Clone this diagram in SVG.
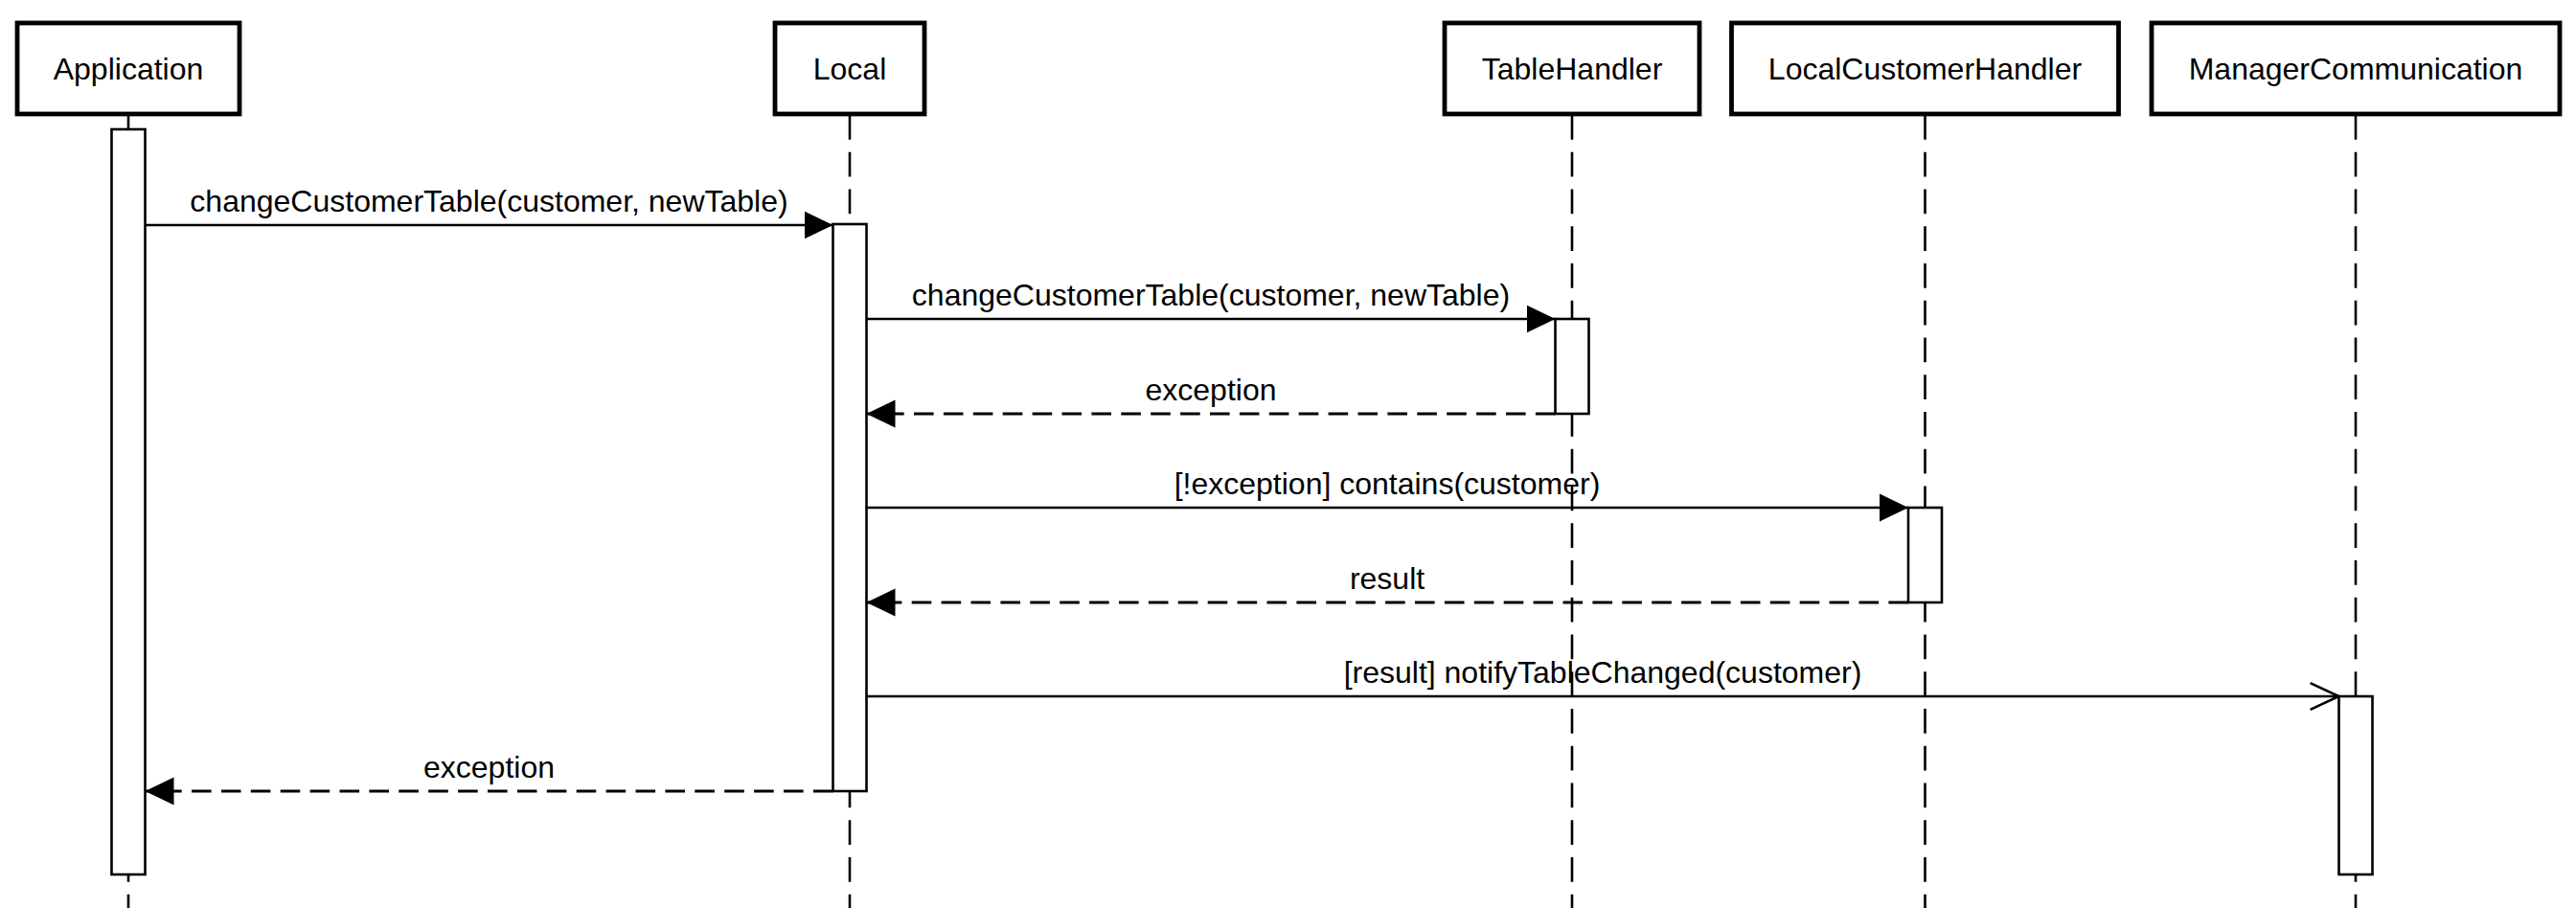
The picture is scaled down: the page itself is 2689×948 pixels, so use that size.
<svg xmlns="http://www.w3.org/2000/svg" width="2689" height="948" viewBox="0 0 2689 948">
<style>
.box{fill:#fff;stroke:#000;stroke-width:4.8}
.life{stroke:#000;stroke-width:2.6;stroke-dasharray:25.8 12.95;fill:none}
.act{fill:#fff;stroke:#000;stroke-width:2.6}
.msg{stroke:#000;stroke-width:2.6;fill:none}
.ret{stroke:#000;stroke-width:2.8;fill:none;stroke-dasharray:20.6 10.3}
text{font-family:"Liberation Sans",Arial,sans-serif;font-size:32px;fill:#000;text-anchor:middle}
</style>
<defs>
<marker id="block" markerUnits="userSpaceOnUse" markerWidth="30" markerHeight="30" viewBox="0 0 29 28" refX="29" refY="14" orient="auto">
<path d="M0,0 L29,14 L0,28 Z" fill="#000"/>
</marker>
<marker id="open" markerUnits="userSpaceOnUse" markerWidth="34" markerHeight="34" viewBox="-2 -2 33 31" refX="29" refY="13.5" orient="auto">
<path d="M0,0 L29,13.5 L0,27" fill="none" stroke="#000" stroke-width="2.6"/>
</marker>
</defs>
<rect width="2689" height="948" fill="#fff"/>
<g id="lifelines">
<line class="life" x1="134" y1="120" x2="134" y2="948"/>
<line class="life" x1="887" y1="120" x2="887" y2="948"/>
<line class="life" x1="1641" y1="120" x2="1641" y2="948"/>
<line class="life" x1="2009.5" y1="120" x2="2009.5" y2="948"/>
<line class="life" x1="2459" y1="120" x2="2459" y2="948"/>
</g>
<g id="Application">
<rect class="box" x="18" y="24" width="232" height="95"/>
<text x="134" y="82.5">Application</text>
<rect class="act" x="116.5" y="135" width="35" height="778"/>
</g>
<g id="Local">
<rect class="box" x="809" y="24" width="156" height="95"/>
<text x="887" y="82.5">Local</text>
<rect class="act" x="869.5" y="234" width="35" height="592"/>
</g>
<g id="TableHandler">
<rect class="box" x="1508" y="24" width="266" height="95"/>
<text x="1641" y="82.5">TableHandler</text>
<rect class="act" x="1623.5" y="333" width="35" height="99"/>
</g>
<g id="LocalCustomerHandler">
<rect class="box" x="1807.5" y="24" width="404" height="95"/>
<text x="2009.5" y="82.5">LocalCustomerHandler</text>
<rect class="act" x="1992" y="530" width="35" height="99"/>
</g>
<g id="ManagerCommunication">
<rect class="box" x="2246" y="24" width="426" height="95"/>
<text x="2459" y="82.5">ManagerCommunication</text>
<rect class="act" x="2441.5" y="727" width="35" height="186"/>
</g>
<g id="connectors">
<line class="msg" x1="151.5" y1="235" x2="869.5" y2="235" marker-end="url(#block)"/>
<text x="510.5" y="221">changeCustomerTable(customer, newTable)</text>
<line class="msg" x1="904.5" y1="333" x2="1623.5" y2="333" marker-end="url(#block)"/>
<text x="1264" y="319">changeCustomerTable(customer, newTable)</text>
<line class="ret" x1="1623.5" y1="432" x2="904.5" y2="432" marker-end="url(#block)"/>
<text x="1264" y="418">exception</text>
<line class="msg" x1="904.5" y1="530" x2="1992" y2="530" marker-end="url(#block)"/>
<text x="1448" y="516">[!exception] contains(customer)</text>
<line class="ret" x1="1992" y1="629" x2="904.5" y2="629" marker-end="url(#block)"/>
<text x="1448" y="615">result</text>
<line class="msg" x1="904.5" y1="727" x2="2441.5" y2="727" marker-end="url(#open)"/>
<text x="1673" y="713">[result] notifyTableChanged(customer)</text>
<line class="ret" x1="869.5" y1="826" x2="151.5" y2="826" marker-end="url(#block)"/>
<text x="510.5" y="812">exception</text>
</g>
</svg>
